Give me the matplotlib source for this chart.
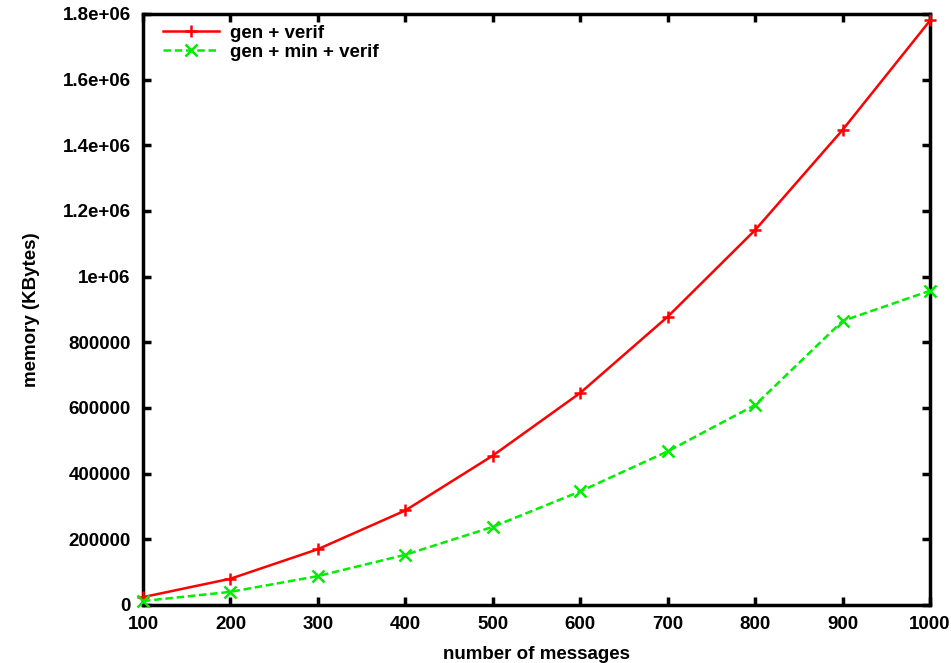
import matplotlib
matplotlib.use("Agg")
import matplotlib.pyplot as plt

messages = [100, 200, 300, 400, 500, 600, 700, 800, 900, 1000]
gen_verif = [24000, 80000, 170000, 288000, 455000, 646000, 878000, 1142000, 1447000, 1780000]
gen_min_verif = [12000, 40000, 88000, 153000, 238000, 346000, 468000, 609000, 865000, 957000]
xticks = [100, 200, 300, 400, 500, 600, 700, 800, 900, 1000]
yticks = [0, 200000, 400000, 600000, 800000, 1000000, 1200000, 1400000, 1600000, 1800000]
ytick_labels = ["0", "200000", "400000", "600000", "800000", "1e+06", "1.2e+06", "1.4e+06", "1.6e+06", "1.8e+06"]

plt.rcParams['font.family'] = ['Liberation Sans', 'DejaVu Sans']
plt.rcParams['font.weight'] = 'bold'

fs = 13.5
fig = plt.figure(figsize=(9.51, 6.63), dpi=100)
ax = fig.add_axes([0.1504, 0.0875, 0.8276, 0.8915])

ax.plot(messages, gen_verif, color='#ff0000', lw=1.8, marker='+', ms=9, mew=1.8,
        label='gen + verif', clip_on=False, zorder=3)
ax.plot(messages, gen_min_verif, color='#00ee00', lw=1.8, ls=(0, (3, 1.5)), marker='x', ms=8, mew=1.8,
        label='gen + min + verif', clip_on=False, zorder=3)

ax.set_xlim(100, 1000)
ax.set_ylim(0, 1800000)
ax.set_xticks(xticks)
ax.set_xticklabels([str(v) for v in xticks])
ax.set_yticks(yticks)
ax.set_yticklabels(ytick_labels)

for s in ax.spines.values():
    s.set_linewidth(2.5)
ax.tick_params(direction='in', length=6, width=2.5, top=True, right=True,
               labelsize=fs, pad=8)
ax.tick_params(axis='y', pad=9)
for lab in ax.get_xticklabels() + ax.get_yticklabels():
    lab.set_fontweight('bold')

ax.set_xlabel('number of messages', fontsize=fs, fontweight='bold', labelpad=9)
ax.set_ylabel('memory (KBytes)', fontsize=fs, fontweight='bold', labelpad=16)

leg = ax.legend(loc='upper left', frameon=False, fontsize=fs, handlelength=3.0,
                borderaxespad=0.0, borderpad=0.0, handletextpad=0.6, labelspacing=0.1,
                bbox_to_anchor=(0.025, 0.982))
for t in leg.get_texts():
    t.set_fontweight('bold')

fig.savefig('out.png', dpi=100)
